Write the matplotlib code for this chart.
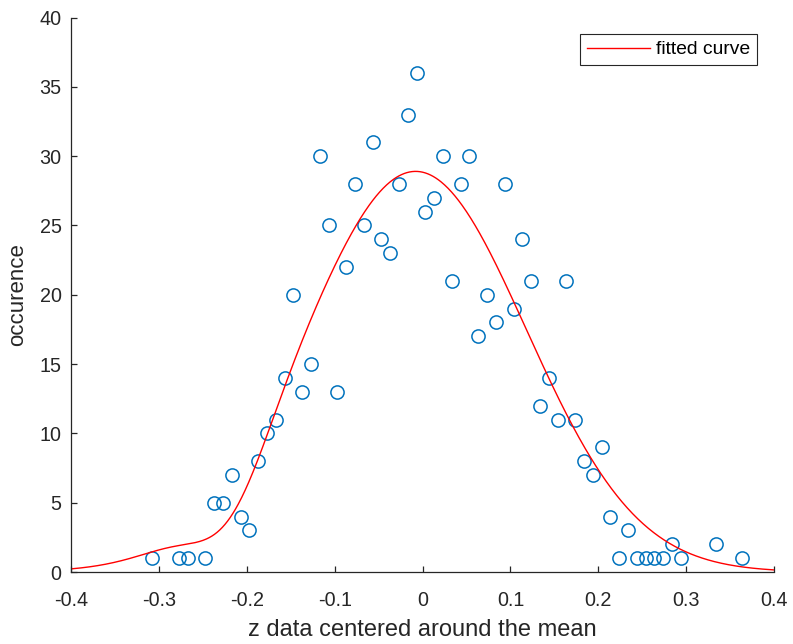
import numpy as np
import matplotlib
matplotlib.use('Agg')
import matplotlib.pyplot as plt

plt.rcParams['font.family'] = ['Liberation Sans', 'DejaVu Sans']

# histogram bin centres (z, centred on the mean) and their counts
z_centers = [-0.3076, -0.2775, -0.2675, -0.2474, -0.2374, -0.2274, -0.2174,
             -0.2073, -0.1973, -0.1873, -0.1773, -0.1672, -0.1572, -0.1472,
             -0.1372, -0.1271, -0.1171, -0.1071, -0.0971, -0.0870, -0.0770,
             -0.0670, -0.0570, -0.0469, -0.0369, -0.0269, -0.0168, -0.0068,
             0.0032, 0.0132, 0.0233, 0.0333, 0.0433, 0.0533, 0.0634, 0.0734,
             0.0834, 0.0934, 0.1035, 0.1135, 0.1235, 0.1335, 0.1436, 0.1536,
             0.1636, 0.1736, 0.1837, 0.1937, 0.2037, 0.2138, 0.2238, 0.2338,
             0.2438, 0.2539, 0.2639, 0.2739, 0.2839, 0.2940, 0.3341, 0.3641]
counts = [1, 1, 1, 1, 5, 5, 7,
          4, 3, 8, 10, 11, 14, 20,
          13, 15, 30, 25, 13, 22, 28,
          25, 31, 24, 23, 28, 33, 36,
          26, 27, 30, 21, 28, 30, 17, 20,
          18, 28, 19, 24, 21, 12, 14, 11,
          21, 11, 8, 7, 9, 4, 1, 3,
          1, 1, 1, 1, 2, 1, 2, 1]

# two-term gaussian fit: a*exp(-((x-b)/c)^2)
fit_a = [28.9, -3.15]
fit_b = [-0.008, -0.218]
fit_c = [0.178, 0.0558]

x_fit = np.linspace(-0.4, 0.4, 801)
y_fit = np.zeros_like(x_fit)
for a, b, c in zip(fit_a, fit_b, fit_c):
    y_fit += a * np.exp(-((x_fit - b) / c) ** 2)

fig = plt.figure(figsize=(7.93, 6.44), dpi=100)
ax = fig.add_axes([0.0899, 0.1118, 0.8861, 0.861])

ax.plot(z_centers, counts, 'o', markerfacecolor='none', markeredgecolor='#0072BD',
        markersize=9.5, markeredgewidth=1.1, label='_nolegend_')
ax.plot(x_fit, y_fit, color='#FF0000', linewidth=1.0, label='fitted curve')

ax.set_xlim(-0.4, 0.4)
ax.set_ylim(0, 40)
ax.set_xticks(np.arange(-0.4, 0.41, 0.1))
ax.set_xticklabels(['-0.4', '-0.3', '-0.2', '-0.1', '0', '0.1', '0.2', '0.3', '0.4'])
ax.set_yticks(range(0, 41, 5))

for side in ['top', 'right']:
    ax.spines[side].set_visible(False)
for side in ['left', 'bottom']:
    ax.spines[side].set_color('#262626')
    ax.spines[side].set_linewidth(0.9)
ax.tick_params(direction='in', length=4, width=0.9, colors='#262626',
               labelsize=14.2)
ax.tick_params(axis='x', pad=14)
ax.tick_params(axis='y', pad=7)

ax.set_xlabel('z data centered around the mean', fontsize=17, color='#262626', labelpad=6)
ax.set_ylabel('occurence', fontsize=16, color='#262626', labelpad=8)

leg = ax.legend(loc='upper right', bbox_to_anchor=(0.9758, 0.9702), borderaxespad=0,
                fontsize=13.9, handlelength=3.3, handletextpad=0.3, borderpad=0.35,
                fancybox=False, framealpha=1, edgecolor='#262626')
leg.get_frame().set_linewidth(0.8)
for t in leg.get_texts():
    t.set_color('#000000')

fig.savefig('out.png', dpi=100)
